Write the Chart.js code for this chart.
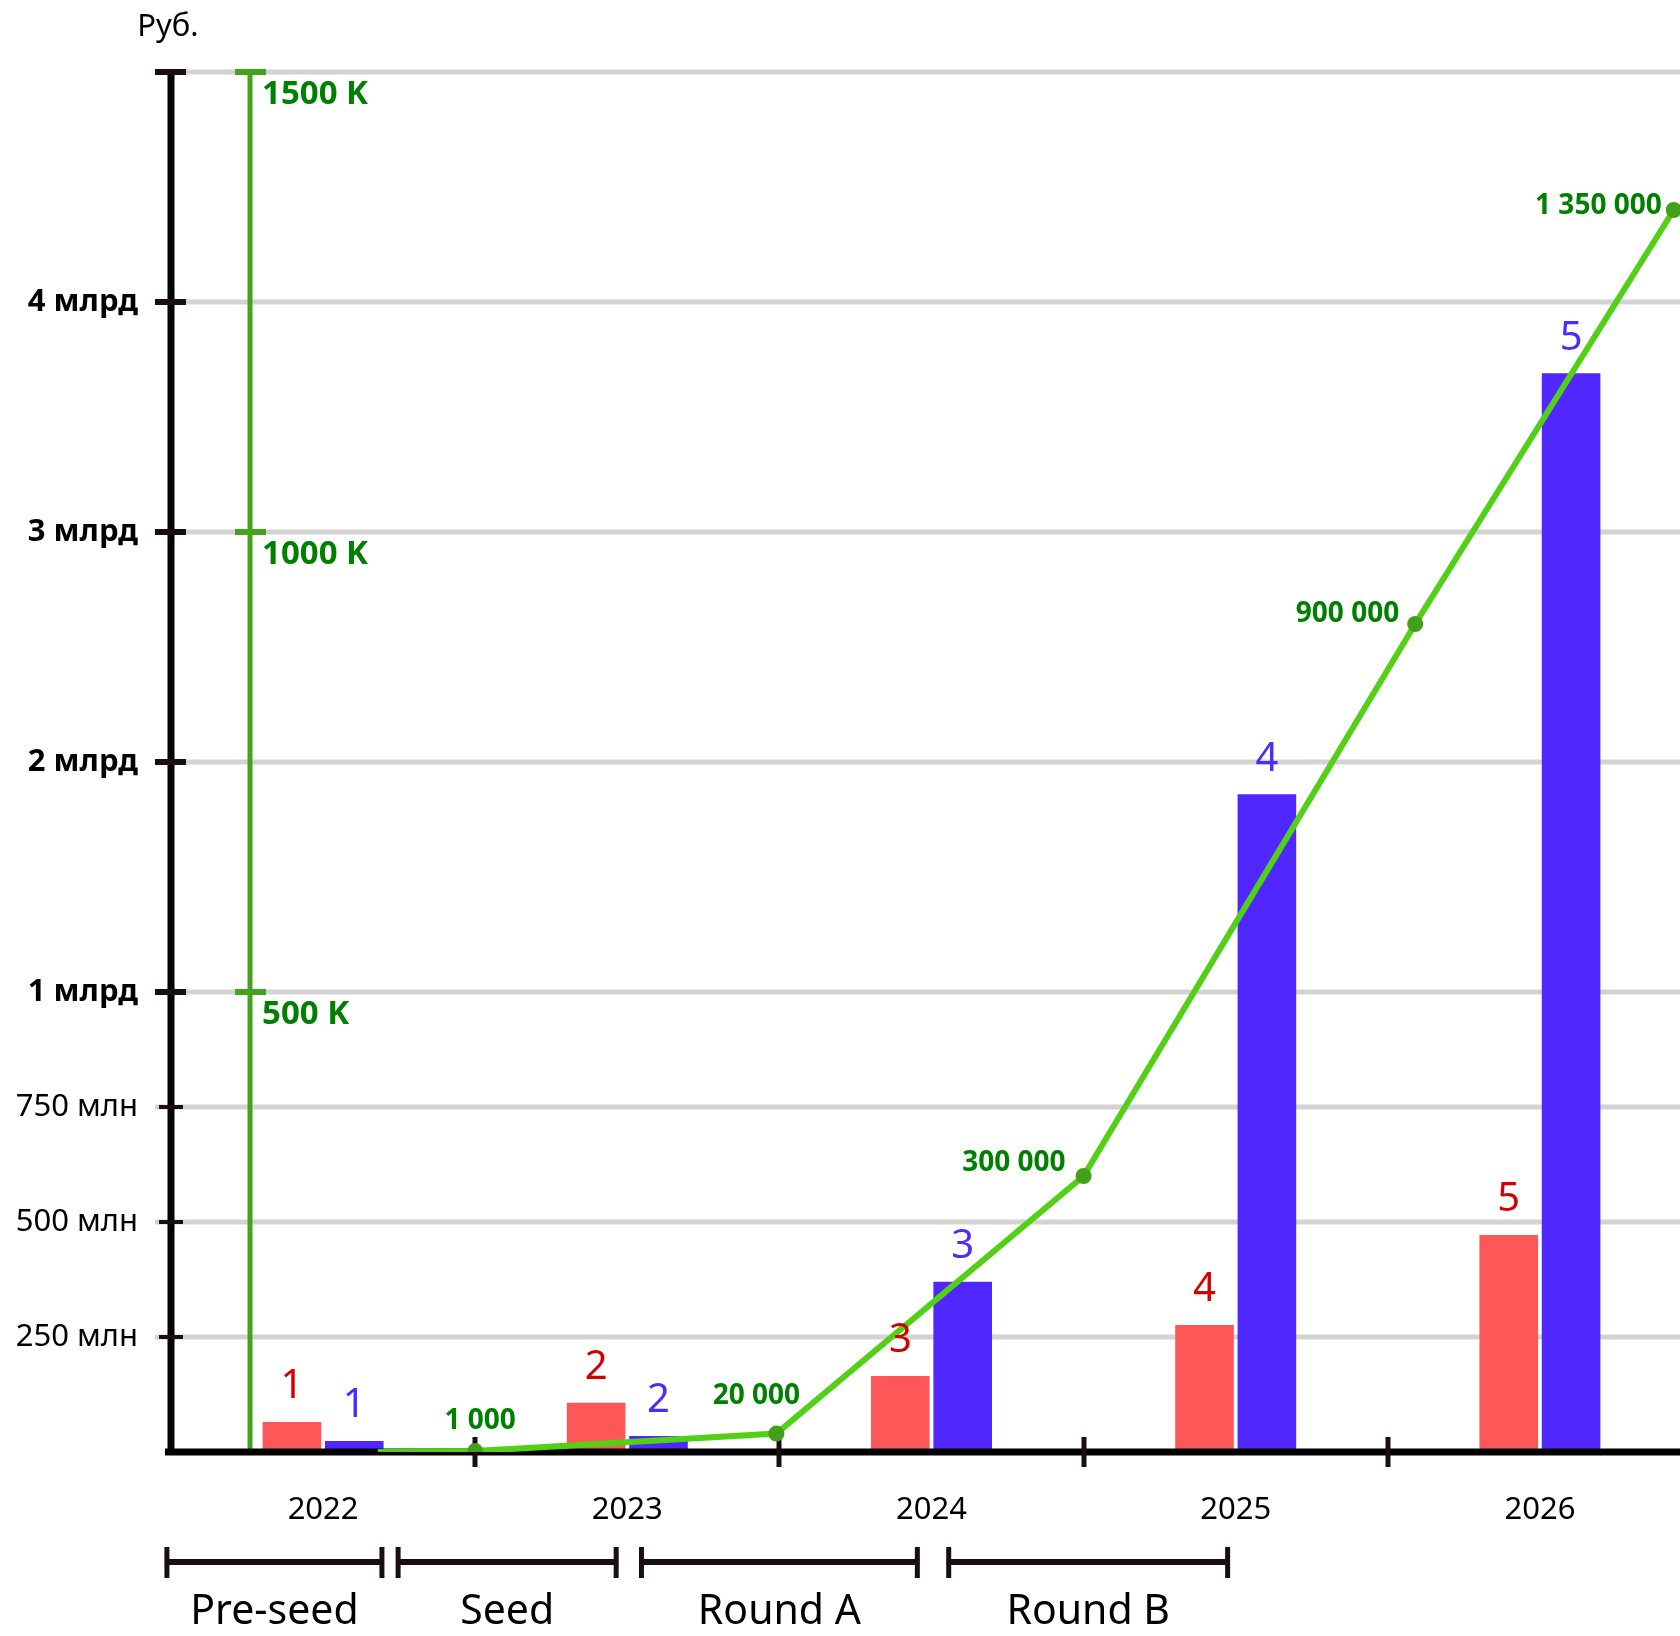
<!DOCTYPE html>
<html>
<head>
<meta charset="utf-8">
<script src="https://cdn.jsdelivr.net/npm/chart.js@4.4.1/dist/chart.umd.min.js"></script>
<style>
    html, body { margin: 0; padding: 0; background: #fff; overflow: hidden; }
    #canvas { width: 1700px; height: 1636px; }
</style>
</head>
<body>
<div id="canvas"><canvas id="barChart" width="1700" height="1636"></canvas></div>
<script>
var years = ['2022', '2023', '2024', '2025', '2026'];
var redValues = [65e6, 107e6, 165e6, 276e6, 472e6];
var blueValues = [24e6, 35e6, 370e6, 1.86e9, 3.69e9];
var barLabels = ['1', '2', '3', '4', '5'];

var lineX = [2022.18, 2022.5, 2023.49, 2024.5, 2025.59, 2026.44];
var lineValues = [0, 1000, 20000, 300000, 900000, 1350000];

var yTicks = [250e6, 500e6, 750e6, 1e9, 2e9, 3e9, 4e9, 5e9];
var yTickLabels = ['250 млн', '500 млн', '750 млн', '1 млрд', '2 млрд', '3 млрд', '4 млрд', ''];
var greenTicks = [500000, 1000000, 1500000];
var greenTickLabels = ['500 K', '1000 K', '1500 K'];

var rounds = ['Pre-seed', 'Seed', 'Round A', 'Round B'];
var roundStart = [2021.48, 2022.24, 2023.04, 2024.05];
var roundEnd = [2022.2, 2022.97, 2023.96, 2024.98];

var FONT = '"Noto Sans", "DejaVu Sans", sans-serif';
// the left axis is stretched below 1 млрд: that part takes a third of the height
var BREAK_VALUE = 1e9;
var BREAK_SHARE = 1 / 3;

class BrokenScale extends Chart.LinearScale {
    getPixelForValue(value) {
        var d;
        if (value <= BREAK_VALUE) d = value / BREAK_VALUE * BREAK_SHARE;
        else d = BREAK_SHARE + (value - BREAK_VALUE) / (this.max - BREAK_VALUE) * (1 - BREAK_SHARE);
        return this.getPixelForDecimal(d);
    }
    getValueForPixel(pixel) {
        var d = this.getDecimalForPixel(pixel);
        if (d <= BREAK_SHARE) return d / BREAK_SHARE * BREAK_VALUE;
        return BREAK_VALUE + (d - BREAK_SHARE) / (1 - BREAK_SHARE) * (this.max - BREAK_VALUE);
    }
}
BrokenScale.id = 'broken';
BrokenScale.defaults = Chart.LinearScale.defaults;
Chart.register(BrokenScale);

function seg(ctx, x1, y1, x2, y2) {
    ctx.beginPath();
    ctx.moveTo(x1, y1);
    ctx.lineTo(x2, y2);
    ctx.stroke();
}

function fmt(v) {
    return String(v).replace(/\B(?=(\d{3})+(?!\d))/g, ' ');
}

function drawAxes(chart) {
    var ctx = chart.ctx, a = chart.chartArea;
    var x = chart.scales.x, y = chart.scales.y;
    ctx.save();
    ctx.lineCap = 'butt';
    ctx.strokeStyle = '#000';
    ctx.lineWidth = 7;
    seg(ctx, a.left, a.top - 3, a.left, a.bottom + 3);
    seg(ctx, a.left - 6, a.bottom, chart.width, a.bottom);
    ctx.strokeStyle = '#1b0e10';
    for (var i = 0; i < yTicks.length; i++) {
        var py = Math.round(y.getPixelForValue(yTicks[i]));
        if (yTicks[i] >= 1e9) {
            ctx.lineWidth = 6;
            seg(ctx, a.left - 16, py, a.left + 15, py);
        } else {
            ctx.lineWidth = 4;
            seg(ctx, a.left - 12, py, a.left + 12, py);
        }
    }
    ctx.lineWidth = 5;
    for (var k = 1; k <= years.length; k++) {
        var px = Math.round(x.getPixelForValue(k - 0.5));
        seg(ctx, px, a.bottom - 15, px, a.bottom + 15);
    }
    ctx.restore();
}

var decor = {
    id: 'decor',
    beforeDatasetsDraw: function (chart) {
        var ctx = chart.ctx, a = chart.chartArea;
        var y = chart.scales.y, y2 = chart.scales.y2;
        ctx.save();
        ctx.lineCap = 'butt';
        // grid
        ctx.strokeStyle = '#d3d3d3';
        ctx.lineWidth = 5;
        for (var i = 0; i < yTicks.length; i++) {
            var py = Math.round(y.getPixelForValue(yTicks[i]));
            seg(ctx, a.left - 16, py, chart.width, py);
        }
        // green axis for the line
        var gx = a.left + 79;
        ctx.strokeStyle = '#44a31e';
        ctx.lineWidth = 5;
        seg(ctx, gx, a.top, gx, a.bottom);
        ctx.fillStyle = '#008000';
        ctx.font = 'bold 33px ' + FONT;
        ctx.textAlign = 'left';
        ctx.textBaseline = 'middle';
        for (var j = 0; j < greenTicks.length; j++) {
            var gy = Math.round(y2.getPixelForValue(greenTicks[j]));
            ctx.lineWidth = 6;
            seg(ctx, gx - 15, gy, gx + 16, gy);
            ctx.fillText(greenTickLabels[j], gx + 12, gy + 23);
        }
        ctx.restore();
    },
    // axes go over the bars but under the green line
    beforeDatasetDraw: function (chart, args) {
        if (args.index === 0) drawAxes(chart);
    },
    afterDatasetsDraw: function (chart) {
        var ctx = chart.ctx, a = chart.chartArea;
        var x = chart.scales.x, xl = chart.scales.xl, y = chart.scales.y;
        ctx.save();
        ctx.lineCap = 'butt';
        ctx.strokeStyle = '#1b0e10';
        ctx.fillStyle = '#000';
        ctx.textAlign = 'right';
        ctx.textBaseline = 'middle';
        for (var i = 0; i < yTicks.length; i++) {
            var py = Math.round(y.getPixelForValue(yTicks[i]));
            ctx.font = (yTicks[i] >= 1e9 ? 'bold ' : '') + '31px ' + FONT;
            ctx.fillText(yTickLabels[i], a.left - 33, py);
        }
        ctx.textAlign = 'center';
        ctx.font = '31px ' + FONT;
        for (var m = 0; m < years.length; m++) {
            ctx.fillText(years[m], x.getPixelForValue(m), a.bottom + 58);
        }
        ctx.fillText('Руб.', a.left - 3, 27);
        // funding rounds
        ctx.font = '41px ' + FONT;
        for (var r = 0; r < rounds.length; r++) {
            var x1 = xl.getPixelForValue(roundStart[r]), x2 = xl.getPixelForValue(roundEnd[r]);
            var ry = a.bottom + 110;
            ctx.lineWidth = 6;
            seg(ctx, x1, ry, x2, ry);
            ctx.lineWidth = 5;
            seg(ctx, x1 + 2, ry - 15, x1 + 2, ry + 16);
            seg(ctx, x2 - 2, ry - 15, x2 - 2, ry + 16);
            ctx.fillText(rounds[r], (x1 + x2) / 2, ry + 50);
        }
        // bar numbers
        ctx.font = '40px ' + FONT;
        chart.data.datasets.forEach(function (ds, di) {
            if (ds.type === 'line') return;
            var meta = chart.getDatasetMeta(di);
            ctx.fillStyle = ds.labelColor;
            meta.data.forEach(function (el, i) {
                ctx.fillText(barLabels[i], el.x, el.y - 35);
            });
        });
        // line values
        var off = [null, [5, -30, 'center'], [-20, -38, 'center'], [-18, -13, 'right'], [-16, -10, 'right'], [-12, -4, 'right']];
        var lm = chart.getDatasetMeta(0);
        ctx.fillStyle = '#008000';
        ctx.font = 'bold 28px ' + FONT;
        lm.data.forEach(function (pt, i) {
            if (!off[i]) return;
            ctx.textAlign = off[i][2];
            ctx.fillText(fmt(lineValues[i]), pt.x + off[i][0], pt.y + off[i][1]);
        });
        ctx.restore();
    }
};

var linePoints = [];
for (var i = 0; i < lineX.length; i++) linePoints.push({x: lineX[i], y: lineValues[i]});

var chart = new Chart(document.querySelector('#barChart'), {
    type: 'bar',
    data: {
        labels: years,
        datasets: [{
            type: 'line',
            data: linePoints,
            xAxisID: 'xl',
            yAxisID: 'y2',
            order: 0,
            borderColor: '#52d016',
            borderWidth: 6,
            tension: 0,
            pointRadius: lineValues.map(function (v, i) { return i === 0 ? 0 : 8; }),
            pointBorderWidth: 0,
            pointBackgroundColor: '#43a01b'
        }, {
            data: redValues,
            xAxisID: 'x',
            yAxisID: 'y',
            order: 1,
            backgroundColor: '#ff5757',
            labelColor: '#d40000',
            categoryPercentage: 0.82,
            barPercentage: 0.94
        }, {
            data: blueValues,
            xAxisID: 'x',
            yAxisID: 'y',
            order: 1,
            backgroundColor: '#5028ff',
            labelColor: '#4b2bff',
            categoryPercentage: 0.82,
            barPercentage: 0.94
        }]
    },
    options: {
        responsive: false,
        devicePixelRatio: 1,
        animation: false,
        layout: { padding: { left: 171, top: 72, right: 5, bottom: 184 } },
        plugins: { legend: { display: false }, tooltip: { enabled: false } },
        scales: {
            x: { type: 'category', display: false, offset: true },
            xl: { type: 'linear', display: false, offset: false, min: 2021.5, max: 2026.5 },
            y: { type: 'broken', display: false, min: 0, max: 5e9 },
            y2: { type: 'linear', display: false, offset: false, min: 0, max: 1500000 }
        }
    },
    plugins: [decor]
});
</script>
</body>
</html>
